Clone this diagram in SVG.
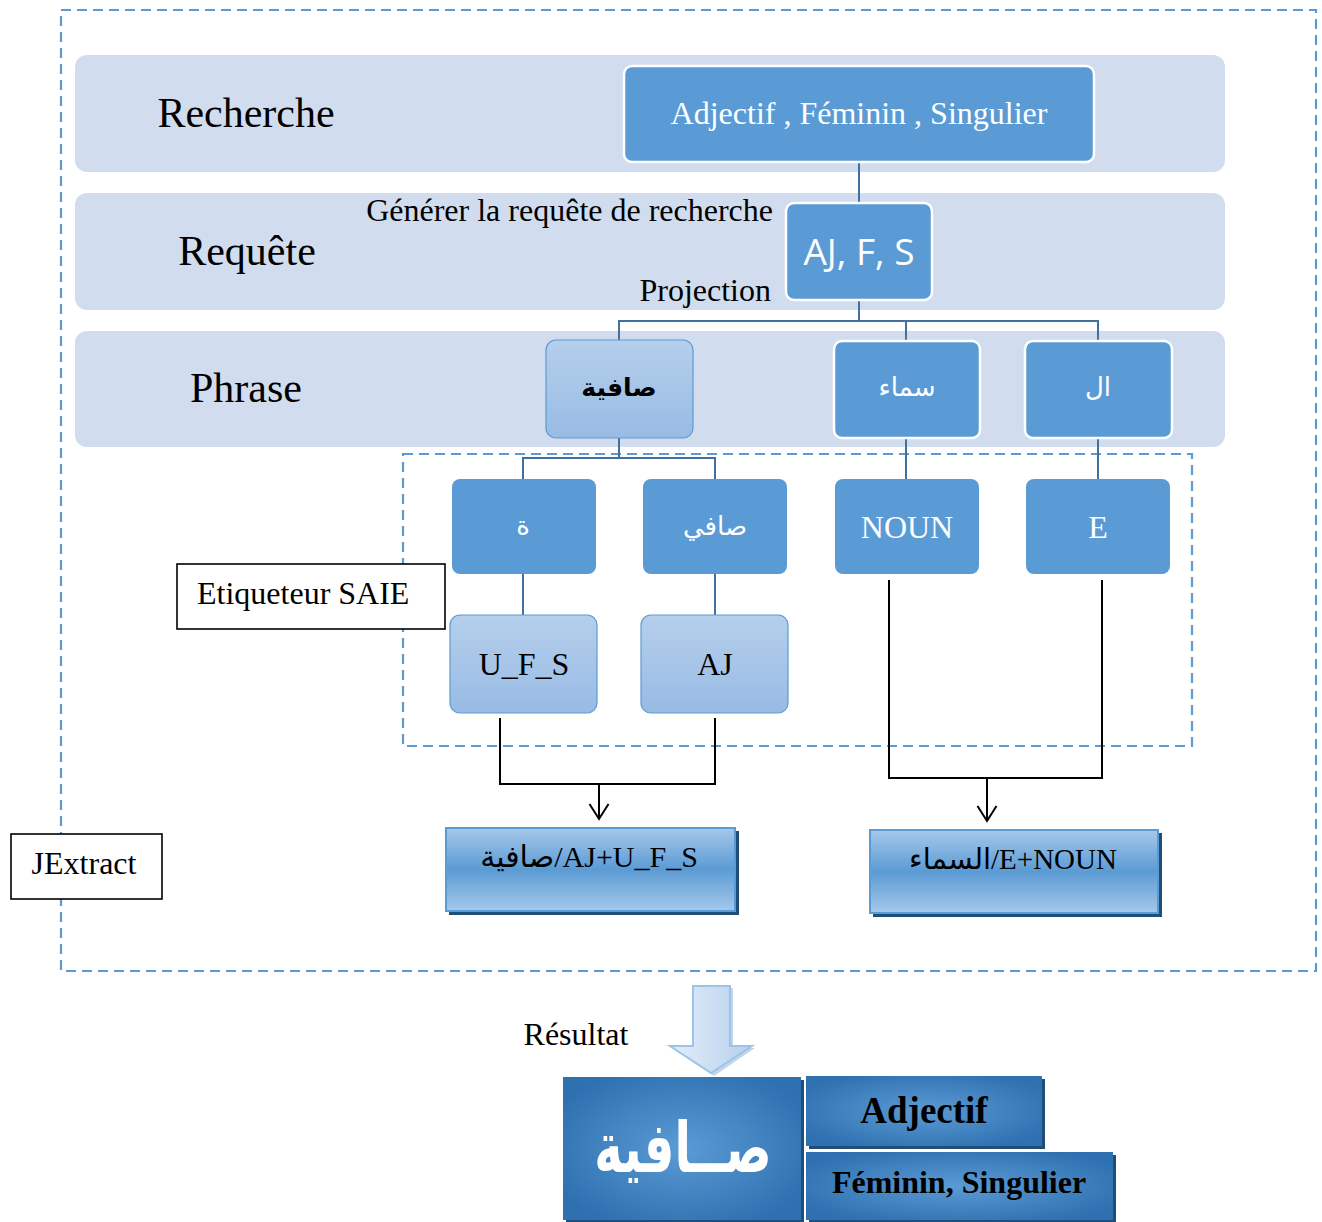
<svg xmlns="http://www.w3.org/2000/svg" width="1322" height="1222" viewBox="0 0 1322 1222">
  <defs>
    <linearGradient id="gLight" x1="0" y1="0" x2="0" y2="1">
      <stop offset="0" stop-color="#b5cfec"/>
      <stop offset="1" stop-color="#98bbe4"/>
    </linearGradient>
    <linearGradient id="gResult" x1="0" y1="0" x2="0" y2="1">
      <stop offset="0" stop-color="#a6c8ea"/>
      <stop offset="0.5" stop-color="#5b9bd5"/>
      <stop offset="1" stop-color="#a6c8ea"/>
    </linearGradient>
    <radialGradient id="gDark" cx="0.5" cy="0.5" r="0.6">
      <stop offset="0" stop-color="#5b9bd5"/>
      <stop offset="1" stop-color="#2e70b0"/>
    </radialGradient>
    <linearGradient id="gArrow" x1="0" y1="0" x2="1" y2="0">
      <stop offset="0" stop-color="#e4edf8"/>
      <stop offset="1" stop-color="#b6d0ee"/>
    </linearGradient>
    <marker id="openArrow" viewBox="0 0 24 24" refX="20" refY="12" markerWidth="24" markerHeight="24" markerUnits="userSpaceOnUse" orient="auto">
      <path d="M5,2.5 L20,12 L5,21.5" fill="none" stroke="#000" stroke-width="2"/>
    </marker>
    <style>
      .serif { font-family: "Liberation Serif", "DejaVu Sans", serif; }
      .sans { font-family: "Open Sans", "DejaVu Sans", sans-serif; }
      .band { fill: #d1ddee; }
      .solid { fill: #5b9bd5; stroke: #ffffff; stroke-width: 2.5; }
      .flat { fill: #5b9bd5; }
      .light { fill: url(#gLight); stroke: #5b9bd5; stroke-width: 1.2; }
      .result { fill: url(#gResult); stroke: #5b9bd5; stroke-width: 2; }
      .shadow { fill: #1f4e79; }
      .dark { fill: url(#gDark); }
      .dash { fill: none; stroke: #5b9bd5; stroke-width: 2.2; stroke-dasharray: 10 6; }
      .plain { fill: #ffffff; stroke: #000; stroke-width: 1.6; }
      .tree { fill: none; stroke: #41719c; stroke-width: 2; }
      .bracket { fill: none; stroke: #000; stroke-width: 2; }
      .white { fill: #ffffff; }
      .black { fill: #000000; }
    </style>
  </defs>

  <rect width="1322" height="1222" fill="#ffffff"/>

  <!-- outer JExtract frame -->
  <rect class="dash" x="61" y="10" width="1255" height="961"/>

  <!-- level bands -->
  <g id="band-recherche">
    <rect class="band" x="75" y="55" width="1150" height="117" rx="12"/>
    <text class="serif black" x="246" y="127" font-size="42" text-anchor="middle">Recherche</text>
  </g>
  <g id="band-requete">
    <rect class="band" x="75" y="193" width="1150" height="117" rx="12"/>
    <text class="serif black" x="247" y="265" font-size="42" text-anchor="middle">Requête</text>
  </g>
  <g id="band-phrase">
    <rect class="band" x="75" y="331" width="1150" height="116" rx="12"/>
    <text class="serif black" x="246" y="402" font-size="42" text-anchor="middle">Phrase</text>
  </g>

  <!-- tagger frame -->
  <rect class="dash" x="403" y="454" width="789" height="292"/>

  <!-- connectors -->
  <g id="connectors">
    <path class="tree" d="M859,162 V203"/>
    <path class="tree" d="M859,300 V321 M619,340 V321 H1098 V340 M906,321 V340"/>
    <path class="tree" d="M619,438 V458 M523,479 V458 H715 V479"/>
    <path class="tree" d="M906,438 V479 M1098,438 V479"/>
    <path class="tree" d="M523,574 V615 M715,574 V615"/>
    <path class="bracket" d="M500,718 V784 H715 V718"/>
    <path class="bracket" d="M599,785 V819" marker-end="url(#openArrow)"/>
    <path class="bracket" d="M889,580 V778 H1102 V580"/>
    <path class="bracket" d="M987,779 V821" marker-end="url(#openArrow)"/>
  </g>

  <!-- query nodes -->
  <g id="node-search">
    <rect class="solid" x="624" y="66" width="470" height="96" rx="8"/>
    <text class="serif white" x="859" y="124" font-size="32" text-anchor="middle">Adjectif , Féminin , Singulier</text>
  </g>
  <g id="node-query">
    <rect class="solid" x="786" y="203" width="146" height="97" rx="8"/>
    <text class="sans white" x="859" y="265" font-size="37" text-anchor="middle">AJ, F, S</text>
  </g>
  <text class="serif black" x="773" y="221" font-size="32" text-anchor="end">Générer la requête de recherche</text>
  <text class="serif black" x="771" y="301" font-size="32" text-anchor="end">Projection</text>

  <!-- sentence words -->
  <g id="node-safiya">
    <rect class="light" x="546" y="340" width="147" height="98" rx="10"/>
    <text class="serif black" x="619" y="396" font-size="25" font-weight="bold" text-anchor="middle">صافية</text>
  </g>
  <g id="node-samaa">
    <rect class="solid" x="834" y="341" width="146" height="97" rx="8"/>
    <text class="serif white" x="907" y="396" font-size="26" text-anchor="middle">سماء</text>
  </g>
  <g id="node-al">
    <rect class="solid" x="1025" y="341" width="147" height="97" rx="8"/>
    <text class="serif white" x="1098" y="396" font-size="26" text-anchor="middle">ال</text>
  </g>

  <!-- segments -->
  <g id="node-ta">
    <rect class="flat" x="452" y="479" width="144" height="95" rx="8"/>
    <text class="serif white" x="523" y="535" font-size="26" text-anchor="middle">ة</text>
  </g>
  <g id="node-safi">
    <rect class="flat" x="643" y="479" width="144" height="95" rx="8"/>
    <text class="sans white" x="715" y="535" font-size="26" text-anchor="middle">صافي</text>
  </g>
  <g id="node-noun">
    <rect class="flat" x="835" y="479" width="144" height="95" rx="8"/>
    <text class="serif white" x="907" y="538" font-size="32" text-anchor="middle">NOUN</text>
  </g>
  <g id="node-e">
    <rect class="flat" x="1026" y="479" width="144" height="95" rx="8"/>
    <text class="serif white" x="1098" y="538" font-size="32" text-anchor="middle">E</text>
  </g>

  <!-- tags -->
  <g id="node-ufs">
    <rect class="light" x="450" y="615" width="147" height="98" rx="10"/>
    <text class="serif black" x="524" y="675" font-size="32" text-anchor="middle">U_F_S</text>
  </g>
  <g id="node-aj">
    <rect class="light" x="641" y="615" width="147" height="98" rx="10"/>
    <text class="serif black" x="715" y="675" font-size="32" text-anchor="middle">AJ</text>
  </g>

  <!-- side labels -->
  <g id="label-saie">
    <rect class="plain" x="177" y="564" width="268" height="65"/>
    <text class="serif black" x="197" y="604" font-size="32">Etiqueteur SAIE</text>
  </g>
  <g id="label-jextract">
    <rect class="plain" x="11" y="834" width="151" height="65"/>
    <text class="serif black" x="84" y="874" font-size="32" text-anchor="middle">JExtract</text>
  </g>

  <!-- extracted results -->
  <g id="node-result-adj">
    <rect class="shadow" x="449" y="831" width="290" height="84"/>
    <rect class="result" x="446" y="828" width="289" height="83"/>
    <text class="serif black" x="589" y="867" font-size="30" text-anchor="middle">صافية/AJ+U_F_S</text>
  </g>
  <g id="node-result-noun">
    <rect class="shadow" x="873" y="833" width="289" height="84"/>
    <rect class="result" x="870" y="830" width="288" height="83"/>
    <text class="serif black" x="1013" y="869" font-size="29" text-anchor="middle">السماء/E+NOUN</text>
  </g>

  <!-- result arrow -->
  <g id="arrow-result">
    <path d="M696,988 H733 V1048 H755 L714,1076 L673,1048 H696 Z" fill="#9bbbd9" opacity="0.6"/>
    <path d="M693,986 H730 V1046 H752 L711,1073 L670,1046 H693 Z" fill="url(#gArrow)" stroke="#9dc3e6" stroke-width="2"/>
  </g>
  <text class="serif black" x="576" y="1045" font-size="32" text-anchor="middle">Résultat</text>

  <!-- final answer -->
  <g id="node-word">
    <rect class="shadow" x="566" y="1080" width="238" height="142"/>
    <rect class="dark" x="563" y="1077" width="238" height="143"/>
    <text class="serif white" transform="translate(683,1172) scale(1,1.45)" x="0" y="0" font-size="48" font-weight="bold" text-anchor="middle">صــافية</text>
  </g>
  <g id="node-adjectif">
    <rect class="shadow" x="809" y="1079" width="236" height="70"/>
    <rect class="dark" x="806" y="1076" width="236" height="70"/>
    <text class="serif black" x="924" y="1123" font-size="37" font-weight="bold" text-anchor="middle">Adjectif</text>
  </g>
  <g id="node-fem-sing">
    <rect class="shadow" x="809" y="1155" width="307" height="67"/>
    <rect class="dark" x="806" y="1152" width="307" height="68"/>
    <text class="serif black" x="959" y="1193" font-size="32" font-weight="bold" text-anchor="middle">Féminin, Singulier</text>
  </g>
</svg>
